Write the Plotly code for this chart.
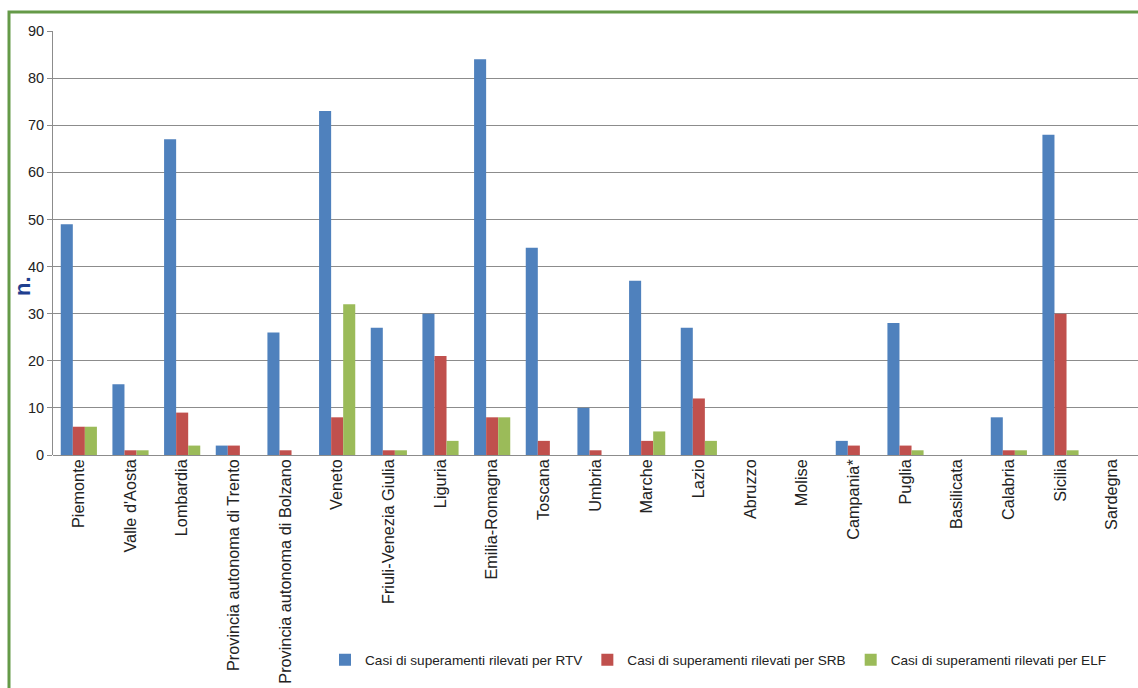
import plotly.graph_objects as go

# Regioni e casi di superamento per tipologia di impianto
regioni = [
    "Piemonte", "Valle d'Aosta", "Lombardia", "Provincia autonoma di Trento",
    "Provincia autonoma di Bolzano", "Veneto", "Friuli-Venezia Giulia", "Liguria",
    "Emilia-Romagna", "Toscana", "Umbria", "Marche", "Lazio", "Abruzzo", "Molise",
    "Campania*", "Puglia", "Basilicata", "Calabria", "Sicilia", "Sardegna",
]
casi_rtv = [49, 15, 67, 2, 26, 73, 27, 30, 84, 44, 10, 37, 27, 0, 0, 3, 28, 0, 8, 68, 0]
casi_srb = [6, 1, 9, 2, 1, 8, 1, 21, 8, 3, 1, 3, 12, 0, 0, 2, 2, 0, 1, 30, 0]
casi_elf = [6, 1, 2, 0, 0, 32, 1, 3, 8, 0, 0, 5, 3, 0, 0, 0, 1, 0, 1, 1, 0]

y_ticks = [0, 10, 20, 30, 40, 50, 60, 70, 80, 90]

serie = [
    ("Casi di superamenti rilevati per RTV", casi_rtv, "#4F81BD"),
    ("Casi di superamenti rilevati per SRB", casi_srb, "#C0504D"),
    ("Casi di superamenti rilevati per ELF", casi_elf, "#9BBB59"),
]

fig = go.Figure()
for nome, valori, colore in serie:
    fig.add_trace(go.Bar(
        x=regioni, y=valori, name=nome,
        marker=dict(color=colore, line=dict(width=0)),
    ))

W, H = 1138, 688
L, R, T, B = 53, 0, 31, 233
pw, ph = W - L - R, H - T - B

fig.update_layout(
    width=W, height=H,
    margin=dict(l=L, r=R, t=T, b=B, autoexpand=False),
    paper_bgcolor="white", plot_bgcolor="white",
    barmode="group", bargap=0.3, bargroupgap=0,
    font=dict(family="Liberation Sans, Arial, sans-serif", color="#222222"),
    showlegend=True,
    legend=dict(
        orientation="h", x=(325 - L) / pw, xanchor="left",
        y=(T + ph - 660) / ph, yanchor="middle",
        font=dict(size=13.6, color="#222222"),
        itemwidth=30, traceorder="normal", bgcolor="rgba(0,0,0,0)",
    ),
    xaxis=dict(
        type="category", tickangle=-90, tickfont=dict(size=16.3, color="#222222"),
        showgrid=False, showline=False, ticks="", zeroline=False,
    ),
    yaxis=dict(
        range=[0, 90], tickvals=y_ticks, tickfont=dict(size=14.5, color="#222222"),
        showgrid=True, gridcolor="#8c8c8c", gridwidth=1,
        zeroline=True, zerolinecolor="#8c8c8c", zerolinewidth=1,
        showline=True, linecolor="#8c8c8c", linewidth=1,
        ticks="outside", ticklen=5, tickcolor="#8c8c8c",
    ),
)

# Etichetta dell'asse verticale
fig.add_annotation(
    text="<b>n.</b>", xref="paper", yref="paper",
    x=(22 - L) / pw, y=(T + ph - 286) / ph,
    xanchor="center", yanchor="middle",
    showarrow=False, textangle=-90,
    font=dict(size=22, color="#1F3F8F"),
)

# Cornice verde attorno al grafico
fig.add_shape(
    type="rect", xref="paper", yref="paper",
    x0=(9 - L) / pw, x1=1.02, y0=-1.0, y1=(T + ph - 12) / ph,
    line=dict(color="#659A48", width=3), fillcolor="rgba(0,0,0,0)", layer="below",
)

fig.write_html("out.html")
